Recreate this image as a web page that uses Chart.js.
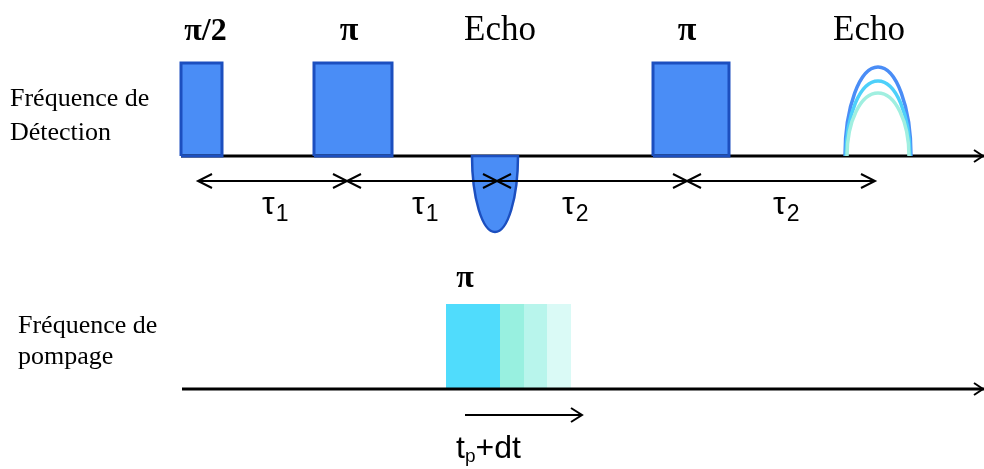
<!DOCTYPE html>
<html>
<head>
<meta charset="utf-8">
<script src="https://cdn.jsdelivr.net/npm/chart.js@4.4.0/dist/chart.umd.min.js"></script>
<style>
  html, body { margin: 0; padding: 0; background: #fff; }
  #wrap { width: 984px; height: 469px; position: relative; }
</style>
</head>
<body>
<div id="wrap"><canvas id="seq"></canvas></div>
<script>
// Séquence DEER : axe du temps (unités arbitraires) et axe d'amplitude (vers le bas)
const detBaseline = 156;
const pumpBaseline = 389;
const timeStart = 181;
const timeEnd = 984;

// impulsions de détection
const pulseStart = [181, 314, 653];
const pulseEnd = [222, 392, 729];
const pulseTop = [63, 63, 63];
const pulseLabels = ['π/2', 'π', 'π'];

// échos
const echoCentre = [495, 878];
const echoHalfWidth = [23, 33];
const echoLabels = ['Echo', 'Echo'];
const echo1Depth = 232;
const echo2Tops = [67, 81, 93];

// délais
const tauStart = [198, 347, 497, 687];
const tauEnd = [347, 497, 687, 875];
const tauSub = ['1', '1', '2', '2'];
const tauLabelX = [262, 412, 562, 773];
const tauLevel = 181;

// impulsion de pompe (positions successives)
const pumpStart = [446, 500, 524, 547];
const pumpEnd = [500, 524, 547, 571];
const pumpTop = 304;
const pumpArrow = [465, 582];
const pumpArrowLevel = 415;

const channelLabels = [['Fréquence de', 'Détection'], ['Fréquence de', 'pompage']];

const pulseFill = '#4a8df6';
const pulseEdge = '#1c4fbf';
const pumpColors = ['#50dcfc', '#98f0e0', '#b8f5ec', '#dafaf6'];
const echoColors = ['#4a8df6', '#4dd0fa', '#a0efe0'];

// rectangles (impulsions) : remplis via les échelles avant le tracé des datasets
const rects = [];
pulseStart.forEach((s, i) => rects.push({s: s, e: pulseEnd[i], top: pulseTop[i], base: detBaseline, color: pulseFill}));
pumpStart.forEach((s, i) => rects.push({s: s, e: pumpEnd[i], top: pumpTop, base: pumpBaseline, color: pumpColors[i]}));

function rectPoints(s, e, top, base) {
  return [{x: s, y: base}, {x: s, y: top}, {x: e, y: top}, {x: e, y: base}, {x: s, y: base}];
}

const datasets = [];
datasets.push({
  data: [{x: timeStart, y: detBaseline}, {x: timeEnd, y: detBaseline}],
  borderColor: '#000', borderWidth: 3, pointRadius: 0, fill: false, order: 3
});
datasets.push({
  data: [{x: timeStart + 1, y: pumpBaseline}, {x: timeEnd, y: pumpBaseline}],
  borderColor: '#000', borderWidth: 3, pointRadius: 0, fill: false, order: 3
});
pulseStart.forEach((s, i) => {
  datasets.push({
    data: rectPoints(s, pulseEnd[i], pulseTop[i], detBaseline),
    borderColor: pulseEdge, borderWidth: 3,
    borderJoinStyle: 'miter', pointRadius: 0, fill: false, order: 1
  });
});

function head(ctx, x, y, dir, len, half) {
  ctx.beginPath();
  ctx.moveTo(x - dir * len, y - half);
  ctx.lineTo(x, y);
  ctx.lineTo(x - dir * len, y + half);
  ctx.stroke();
}

const diagram = {
  id: 'diagram',
  beforeDatasetsDraw(chart) {
    const ctx = chart.ctx;
    const sx = chart.scales.x, sy = chart.scales.y;
    ctx.save();
    rects.forEach(r => {
      const x0 = sx.getPixelForValue(r.s), x1 = sx.getPixelForValue(r.e);
      const y0 = sy.getPixelForValue(r.top), y1 = sy.getPixelForValue(r.base);
      ctx.fillStyle = r.color;
      ctx.fillRect(x0, y0, x1 - x0, y1 - y0);
    });
    ctx.restore();
  },
  afterDatasetsDraw(chart) {
    const ctx = chart.ctx;
    const sx = chart.scales.x, sy = chart.scales.y;
    const px = v => sx.getPixelForValue(v);
    const py = v => sy.getPixelForValue(v);
    ctx.save();

    // écho inversé
    const b = py(detBaseline);
    ctx.beginPath();
    ctx.ellipse(px(echoCentre[0]), b, px(echoCentre[0] + echoHalfWidth[0]) - px(echoCentre[0]),
      py(echo1Depth) - b, 0, 0, Math.PI);
    ctx.closePath();
    ctx.fillStyle = pulseFill;
    ctx.fill();
    ctx.strokeStyle = pulseEdge;
    ctx.lineWidth = 2.5;
    ctx.stroke();

    // écho final (trois courbes)
    echo2Tops.forEach((t, i) => {
      ctx.beginPath();
      const rx = px(echoCentre[1] + echoHalfWidth[1] - i) - px(echoCentre[1]);
      ctx.ellipse(px(echoCentre[1]), b, rx, b - py(t), 0, Math.PI, 2 * Math.PI);
      ctx.strokeStyle = echoColors[i];
      ctx.lineWidth = 3.5;
      ctx.stroke();
    });

    // flèches des axes
    ctx.strokeStyle = '#000';
    ctx.lineWidth = 2;
    head(ctx, px(timeEnd) - 1, py(detBaseline), 1, 9, 6);
    head(ctx, px(timeEnd) - 1, py(pumpBaseline), 1, 9, 6);

    // délais tau
    ctx.lineWidth = 2;
    tauStart.forEach((s, i) => {
      const y = py(tauLevel);
      ctx.beginPath();
      ctx.moveTo(px(s), y);
      ctx.lineTo(px(tauEnd[i]), y);
      ctx.stroke();
      head(ctx, px(s), y, -1, 14, 7);
      head(ctx, px(tauEnd[i]), y, 1, 14, 7);
      ctx.fillStyle = '#000';
      ctx.textBaseline = 'alphabetic';
      ctx.font = '32px "Liberation Sans"';
      ctx.fillText('τ', px(tauLabelX[i]), py(214));
      const w = ctx.measureText('τ').width;
      ctx.font = '23px "Liberation Sans"';
      ctx.fillText(tauSub[i], px(tauLabelX[i]) + w + 1, py(221));
    });

    // flèche de pompe
    const ya = py(pumpArrowLevel);
    ctx.beginPath();
    ctx.moveTo(px(pumpArrow[0]), ya);
    ctx.lineTo(px(pumpArrow[1]), ya);
    ctx.stroke();
    head(ctx, px(pumpArrow[1]), ya, 1, 11, 7);
    ctx.font = '32px "Liberation Sans"';
    ctx.fillText('t', px(456), py(458));
    let x = px(456) + ctx.measureText('t').width;
    ctx.font = '19px "Liberation Sans"';
    ctx.fillText('p', x, py(462));
    x += ctx.measureText('p').width;
    ctx.font = '32px "Liberation Sans"';
    ctx.fillText('+dt', x, py(458));

    // titres des impulsions
    ctx.textAlign = 'center';
    pulseLabels.forEach((l, i) => {
      ctx.font = (l === 'π' ? 'bold 34px' : 'bold 32px') + ' "Liberation Serif"';
      ctx.fillText(l, px((pulseStart[i] + pulseEnd[i]) / 2 + (i === 0 ? 4 : -4)), py(40));
    });
    ctx.font = 'bold 32px "Liberation Serif"';
    ctx.fillText('π', px(465), py(287));
    ctx.font = '35px "Liberation Serif"';
    echoLabels.forEach((l, i) => {
      ctx.fillText(l, px(echoCentre[i] + (i === 0 ? 5 : -9)), py(40));
    });

    // noms des canaux
    ctx.textAlign = 'left';
    ctx.font = '26px "Liberation Serif"';
    ctx.fillText(channelLabels[0][0], 10, 106);
    ctx.fillText(channelLabels[0][1], 10, 140);
    ctx.fillText(channelLabels[1][0], 18, 333);
    ctx.fillText(channelLabels[1][1], 18, 364);
    ctx.restore();
  }
};

new Chart(document.getElementById('seq'), {
  type: 'line',
  data: {datasets: datasets},
  options: {
    responsive: true,
    maintainAspectRatio: false,
    animation: false,
    events: [],
    layout: {padding: 0},
    plugins: {legend: {display: false}, tooltip: {enabled: false}},
    elements: {line: {tension: 0}},
    scales: {
      x: {type: 'linear', min: 0, max: 984, display: false},
      y: {type: 'linear', min: 0, max: 469, reverse: true, display: false}
    }
  },
  plugins: [diagram]
});
</script>
</body>
</html>
